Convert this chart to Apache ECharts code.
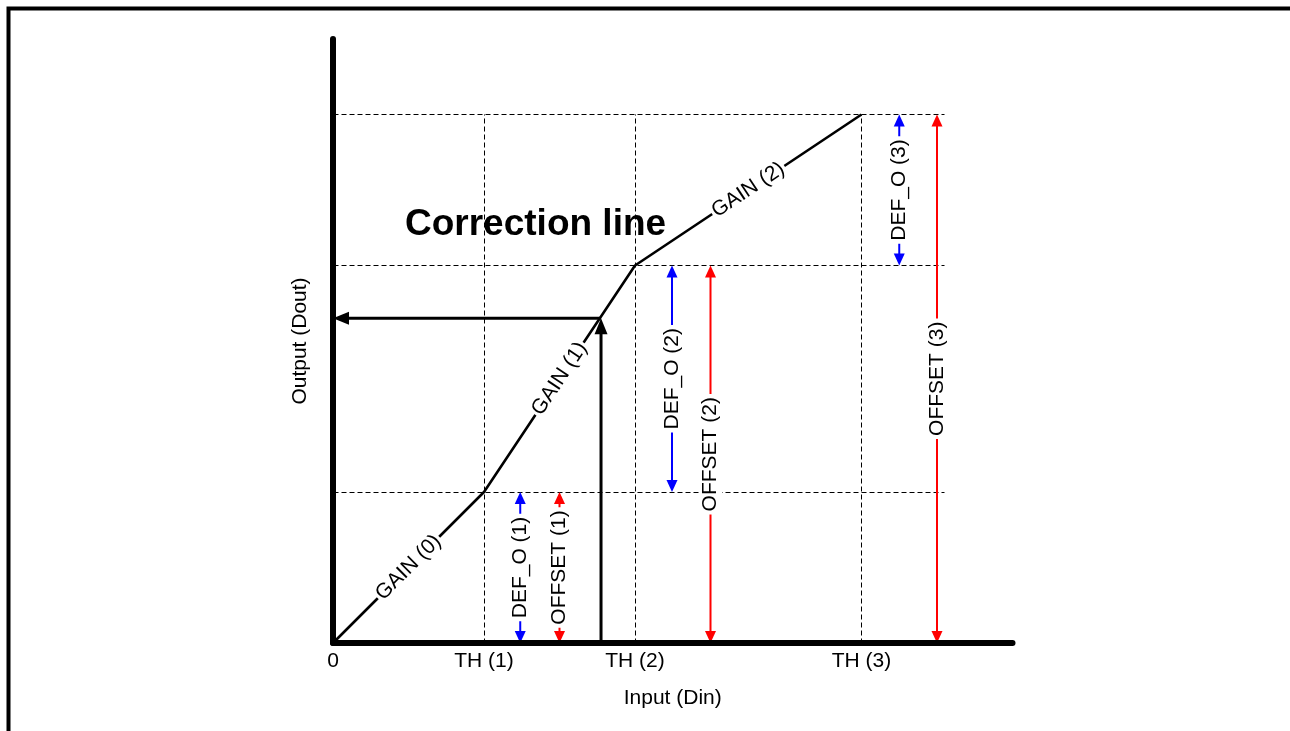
<!DOCTYPE html>
<html><head><meta charset="utf-8">
<script src="https://cdn.jsdelivr.net/npm/echarts@6/dist/echarts.min.js"></script>
<style>html,body{margin:0;padding:0;background:#fff}#c{width:1290px;height:731px}</style>
</head><body><div id="c"></div>
<script>
const xTicks = [0, 1, 2, 3.5];
const xTickLabels = ['0', 'TH (1)', 'TH (2)', 'TH (3)'];
const yLevels = [0, 1, 2.5, 3.5];
const guideRight = 4.05;
const correction = [[0, 0], [1, 1], [2, 2.5], [3.5, 3.5]];
const gainLabels = ['GAIN (0)', 'GAIN (1)', 'GAIN (2)'];
const defOArrows = [[1.24, 0, 1.24, 1], [2.245, 1, 2.245, 2.5], [3.75, 2.5, 3.75, 3.5]];
const defOLabels = ['DEF_O (1)', 'DEF_O (2)', 'DEF_O (3)'];
const offsetArrows = [[1.5, 0, 1.5, 1], [2.5, 0, 2.5, 2.5], [4.0, 0, 4.0, 3.5]];
const offsetLabels = ['OFFSET (1)', 'OFFSET (2)', 'OFFSET (3)'];
const inputPoint = [1.775, 2.15];
const titleText = 'Correction line';

const FONT = '"Liberation Sans", Arial, sans-serif';
const FS = 21;
const inputArrows = [[inputPoint[0], 0, inputPoint[0], inputPoint[1]], [inputPoint[0], inputPoint[1], 0, inputPoint[1]]];
const yTop = yLevels[yLevels.length - 1];
const guides = [
  ...yLevels.slice(1).map(y => [0, y, guideRight, y]),
  ...xTicks.slice(1).map(x => [x, 0, x, yTop])
];
const gainSegs = gainLabels.map((_, i) => [...correction[i], ...correction[i + 1]]);
const crisp = v => Math.round(v - 0.5) + 0.5;

function arrowSeries(name, data, labels, color, width, headLen, headW, both, z) {
  return {
    type: 'custom', name, coordinateSystem: 'cartesian2d', data, silent: true, z,
    encode: { x: [0, 2], y: [1, 3] },
    renderItem(params, api) {
      const a = api.coord([api.value(0), api.value(1)]);
      const b = api.coord([api.value(2), api.value(3)]);
      const dx = b[0] - a[0], dy = b[1] - a[1];
      const L = Math.hypot(dx, dy) || 1;
      const ux = dx / L, uy = dy / L;
      const head = (tip, sx, sy) => {
        const bx = tip[0] - sx * headLen, by = tip[1] - sy * headLen;
        return { type: 'polygon', shape: { points: [tip, [bx - sy * headW / 2, by + sx * headW / 2], [bx + sy * headW / 2, by - sx * headW / 2]] }, style: { fill: color } };
      };
      const s = both ? [a[0] + ux * headLen * 0.8, a[1] + uy * headLen * 0.8] : a;
      const e = [b[0] - ux * headLen * 0.8, b[1] - uy * headLen * 0.8];
      const children = [{ type: 'line', shape: { x1: s[0], y1: s[1], x2: e[0], y2: e[1] }, style: { stroke: color, lineWidth: width } }];
      children.push(head(b, ux, uy));
      if (both) children.push(head(a, -ux, -uy));
      if (labels) {
        children.push({
          type: 'text', x: (a[0] + b[0]) / 2, y: (a[1] + b[1]) / 2, rotation: Math.PI / 2, z2: 10,
          style: { text: labels[params.dataIndex], font: FS + 'px ' + FONT, fill: '#000', align: 'center', verticalAlign: 'middle', backgroundColor: '#fff', padding: [1, 3] }
        });
      }
      return { type: 'group', children };
    }
  };
}

const chart = echarts.init(document.getElementById('c'), null, { renderer: 'canvas' });
chart.setOption({
  animation: false,
  backgroundColor: '#fff',
  grid: { left: 333, top: 39, width: 679.5, height: 604, containLabel: false, outerBoundsMode: 'none' },
  xAxis: {
    type: 'value', min: 0, max: 4.5, interval: 0.5, z: 10,
    axisLine: { show: true, onZero: false, lineStyle: { color: '#000', width: 6, cap: 'round' } },
    axisTick: { show: false }, splitLine: { show: false },
    axisLabel: {
      color: '#000', fontSize: FS, fontFamily: FONT, margin: 8, hideOverlap: false,
      formatter: v => { const i = xTicks.findIndex(t => Math.abs(t - v) < 1e-9); return i >= 0 ? xTickLabels[i] : ''; }
    },
    name: 'Input (Din)', nameLocation: 'middle', nameGap: 45,
    nameTextStyle: { color: '#000', fontSize: FS, fontFamily: FONT }
  },
  yAxis: {
    type: 'value', min: 0, max: 4, z: 10,
    axisLine: { show: true, onZero: false, lineStyle: { color: '#000', width: 6, cap: 'round' } },
    axisTick: { show: false }, splitLine: { show: false }, axisLabel: { show: false },
    name: 'Output (Dout)', nameLocation: 'middle', nameGap: 22,
    nameTextStyle: { color: '#000', fontSize: FS, fontFamily: FONT }
  },
  graphic: [
    { type: 'rect', shape: { x: 8.5, y: 8.5, width: 1400, height: 900 }, style: { fill: 'none', stroke: '#000', lineWidth: 4 }, silent: true },
    { type: 'text', left: 405, top: 206, style: { text: titleText, font: 'bold 37px ' + FONT, fill: '#000' }, silent: true }
  ],
  series: [
    {
      type: 'custom', name: 'guides', coordinateSystem: 'cartesian2d', data: guides, silent: true, z: 1,
      encode: { x: [0, 2], y: [1, 3] },
      renderItem(params, api) {
        const a = api.coord([api.value(0), api.value(1)]);
        const b = api.coord([api.value(2), api.value(3)]);
        return { type: 'line', shape: { x1: crisp(a[0]), y1: crisp(a[1]), x2: crisp(b[0]), y2: crisp(b[1]) }, style: { stroke: '#000', lineWidth: 1, lineDash: [5, 3] } };
      }
    },
    {
      type: 'line', name: 'correction', data: correction, symbol: 'none', silent: true, z: 3,
      lineStyle: { color: '#000', width: 2.6 }
    },
    arrowSeries('input', inputArrows, null, '#000', 3, 16, 13, false, 4),
    {
      type: 'custom', name: 'gainLabels', coordinateSystem: 'cartesian2d', data: gainSegs, silent: true, z: 6,
      encode: { x: [0, 2], y: [1, 3] },
      renderItem(params, api) {
        const a = api.coord([api.value(0), api.value(1)]);
        const b = api.coord([api.value(2), api.value(3)]);
        const ang = Math.atan2(a[1] - b[1], b[0] - a[0]);
        return {
          type: 'text', x: (a[0] + b[0]) / 2, y: (a[1] + b[1]) / 2, rotation: ang,
          style: { text: gainLabels[params.dataIndex], font: FS + 'px ' + FONT, fill: '#000', align: 'center', verticalAlign: 'middle', backgroundColor: '#fff', padding: [0, 2] }
        };
      }
    },
    arrowSeries('defO', defOArrows, defOLabels, '#0000ff', 2, 12, 11, true, 5),
    arrowSeries('offset', offsetArrows, offsetLabels, '#ff0000', 2, 12, 11, true, 5)
  ]
});
</script>
</body></html>
